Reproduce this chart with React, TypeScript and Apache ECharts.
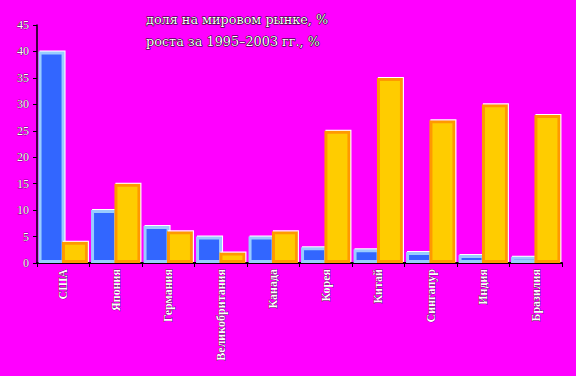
import React, { useEffect, useRef } from "react";
import * as echarts from "echarts";

const categories = ["США", "Япония", "Германия", "Великобритания", "Канада", "Корея", "Китай", "Сингапур", "Индия", "Бразилия"];
const shareValues = [40, 10, 7, 5, 5, 3, 2.6, 2.1, 1.5, 1.2];
const growthValues = [4, 15, 6, 2, 6, 25, 35, 27, 30, 28];
const shareName = "доля на мировом рынке, %";
const growthName = "роста за 1995–2003 гг., %";

export default function App() {
  const ref = useRef<HTMLDivElement>(null);
  useEffect(() => {
    const chart = echarts.init(ref.current!, null, { renderer: "svg" });
    const font = "'Liberation Serif', 'Times New Roman', serif";
    chart.setOption({
      animation: false,
      backgroundColor: "#ff00ff",
      legend: {
        orient: "vertical",
        left: 135,
        top: 7,
        itemWidth: 0,
        itemHeight: 0,
        itemGap: 8,
        icon: "rect",
        data: [shareName, growthName],
        textStyle: {
          color: "#ffffff",
          fontFamily: "'DejaVu Serif', serif",
          fontSize: 12.8,
          textBorderColor: "#000000",
          textBorderWidth: 1,
        },
      },
      grid: { left: 37, right: 14, top: 25, bottom: 113, containLabel: false },
      xAxis: {
        type: "category",
        data: categories,
        axisLine: { lineStyle: { color: "#000000", width: 2 } },
        axisTick: { show: true, length: 4, lineStyle: { color: "#000000" } },
        axisLabel: {
          rotate: 90,
          color: "#ffffff",
          fontFamily: font,
          fontSize: 12,
          fontWeight: "bold",
          margin: 6,
          interval: 0,
          textBorderColor: "#000000",
          textBorderWidth: 0.5,
        },
      },
      yAxis: {
        type: "value",
        min: 0,
        max: 45,
        interval: 5,
        axisLine: { show: true, lineStyle: { color: "#000000", width: 1.5 } },
        axisTick: { show: true, length: 4, lineStyle: { color: "#000000" } },
        splitLine: { show: false },
        axisLabel: {
          color: "#ffffff",
          fontFamily: font,
          fontSize: 12,
          margin: 8,
          textBorderColor: "#000000",
          textBorderWidth: 0.5,
        },
      },
      series: [
        {
          name: shareName,
          type: "bar",
          data: shareValues,
          barWidth: 26,
          barGap: "-10%",
          itemStyle: {
            color: "#3366ff",
            borderColor: "#99ccff",
            borderWidth: 3,
            shadowColor: "#ffffff",
            shadowOffsetX: 1,
            shadowOffsetY: -1,
            shadowBlur: 0,
          },
        },
        {
          name: growthName,
          type: "bar",
          data: growthValues,
          barWidth: 26,
          itemStyle: {
            color: "#ffcc00",
            borderColor: "#ff9900",
            borderWidth: 3,
            shadowColor: "#ffffff",
            shadowOffsetX: 1,
            shadowOffsetY: -1,
            shadowBlur: 0,
          },
        },
      ],
    });
    return () => chart.dispose();
  }, []);
  return <div ref={ref} style={{ width: 576, height: 376, position: "fixed", left: 0, top: 0 }} />;
}
